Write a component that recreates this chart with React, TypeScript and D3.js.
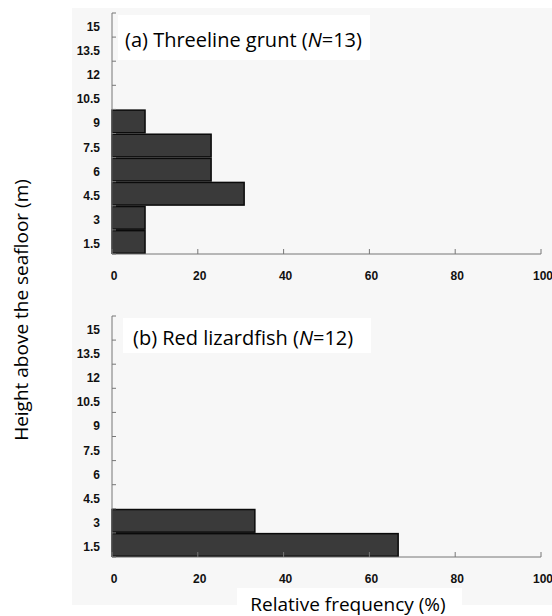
import React from "react";
import * as d3 from "d3";

const heights = ["1.5", "3", "4.5", "6", "7.5", "9", "10.5", "12", "13.5", "15"];
const xTicks = [0, 20, 40, 60, 80, 100];

// relative frequency (%) per height class
const gruntValues = [7.7, 7.7, 30.8, 23.1, 23.1, 7.7, 0, 0, 0, 0];
const lizardValues = [66.7, 33.3, 0, 0, 0, 0, 0, 0, 0, 0];

const W = 552;
const H = 616;
const left = 112;
const right = 541;
const tickFont = "'Liberation Sans', Arial, sans-serif";
const textFont = "'Open Sans', 'Noto Sans', sans-serif";

type PanelProps = {
  top: number;
  bottom: number;
  values: number[];
  letter: string;
  label: string;
  n: number;
  box: { x: number; y: number; w: number; h: number };
  textX: number;
  textY: number;
};

function Panel({ top, bottom, values, letter, label, n, box, textX, textY }: PanelProps) {
  const x = d3.scaleLinear().domain([0, 100]).range([left, right]);
  const y = d3.scaleBand<string>().domain([...heights].reverse()).range([top, bottom]).paddingInner(0.06).paddingOuter(0.03);
  const yEdge = d3.scaleLinear().domain([0, heights.length]).range([bottom, top]);
  return (
    <g>
      <rect x={box.x} y={box.y} width={box.w} height={box.h} fill="#fff" />
      <text x={textX} y={textY} fontFamily={textFont} fontSize={20} fill="#000">
        ({letter}) {label} (<tspan fontStyle="italic">N</tspan>={n})
      </text>
      {values.map((v, i) =>
        v > 0 ? (
          <rect
            key={i}
            x={x(0)}
            y={y(heights[i])!}
            width={x(v) - x(0)}
            height={y.bandwidth()}
            fill="#3a3a3a"
            stroke="#0a0a0a"
            strokeWidth={1.5}
          />
        ) : null
      )}
      {/* y axis */}
      <line x1={left} x2={left} y1={top} y2={bottom} stroke="#777" strokeWidth={1} />
      {d3.range(heights.length + 1).map((k) => (
        <line key={k} x1={left} x2={left + 4} y1={yEdge(k)} y2={yEdge(k)} stroke="#777" strokeWidth={1} />
      ))}
      {heights.map((h) => (
        <text
          key={h}
          x={100}
          y={y(h)! + y.bandwidth() / 2 + 6}
          textAnchor="end"
          fontFamily={tickFont}
          fontWeight="bold"
          fontSize={12}
          fill="#111"
        >
          {h}
        </text>
      ))}
      {/* x axis */}
      <line x1={left} x2={right} y1={bottom} y2={bottom} stroke="#777" strokeWidth={1} />
      {xTicks.map((t) => (
        <g key={t}>
          <line x1={x(t)} x2={x(t)} y1={bottom} y2={bottom - 5} stroke="#777" strokeWidth={1} />
          <text x={x(t) + 2} y={bottom + 26} textAnchor="middle" fontFamily={tickFont} fontWeight="bold" fontSize={12} fill="#111">
            {t}
          </text>
        </g>
      ))}
    </g>
  );
}

export default function App() {
  return (
    <svg width={W} height={H} style={{ position: "absolute", left: 0, top: 0, background: "#fff" }}>
      <rect x={72} y={8} width={W - 72} height={597} fill="#f7f7f7" />
      <rect x={237} y={588} width={225} height={28} fill="#fff" />
      <Panel
        top={13}
        bottom={254}
        values={gruntValues}
        letter="a"
        label="Threeline grunt"
        n={13}
        box={{ x: 118, y: 15, w: 252, h: 45 }}
        textX={125}
        textY={47}
      />
      <Panel
        top={316}
        bottom={557}
        values={lizardValues}
        letter="b"
        label="Red lizardfish"
        n={12}
        box={{ x: 123, y: 318, w: 248, h: 35 }}
        textX={133}
        textY={345}
      />
      <text
        transform={`translate(28,310) rotate(-90)`}
        textAnchor="middle"
        fontFamily={textFont}
        fontSize={19}
        fill="#000"
      >
        Height above the seafloor (m)
      </text>
      <text x={348} y={611} textAnchor="middle" fontFamily={textFont} fontSize={19} fill="#000">
        Relative frequency (%)
      </text>
    </svg>
  );
}
